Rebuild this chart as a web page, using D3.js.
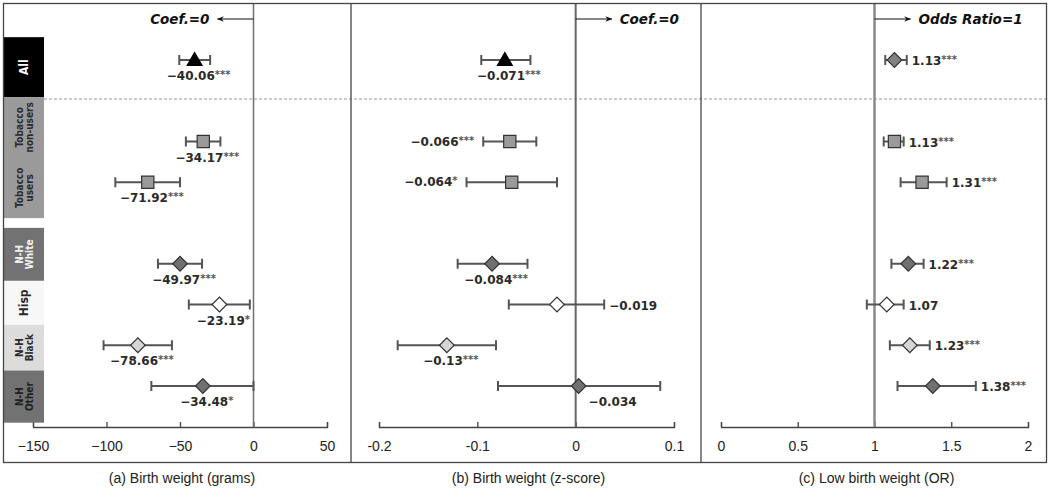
<!DOCTYPE html>
<html>
<head>
<meta charset="utf-8">
<script src="https://cdn.jsdelivr.net/npm/d3@7"></script>
<style>
    body { margin: 0; background: #fff; }
    svg { display: block; }
</style>
</head>
<body>
<script>
// forest plot, three panels, one row per group
var categories = ["All", "Tobacco non-users", "Tobacco users", "N-H White",
    "Hisp", "N-H Black", "N-H Other"];
var rowSlots = [0, 2, 3, 5, 6, 7, 8];   // empty slots between the groups

// (a) birth weight, grams
var bwEst = [-40.06, -34.17, -71.92, -49.97, -23.19, -78.66, -34.48];
var bwLo = [-50.5, -46, -94, -65, -44, -102, -69.5];
var bwHi = [-29.5, -22.5, -50, -35, -2.5, -55.5, 0];
var bwText = ["\u221240.06", "\u221234.17", "\u221271.92", "\u221249.97",
    "\u221223.19", "\u221278.66", "\u221234.48"];
var bwStars = ["***", "***", "***", "***", "*", "***", "*"];

// (b) birth weight, z-score
var zEst = [-0.072, -0.067, -0.065, -0.085, -0.019, -0.131, 0.003];
var zLo = [-0.096, -0.094, -0.111, -0.120, -0.068, -0.181, -0.079];
var zHi = [-0.046, -0.040, -0.019, -0.049, 0.029, -0.081, 0.086];
var zText = ["\u22120.071", "\u22120.066", "\u22120.064", "\u22120.084",
    "\u22120.019", "\u22120.13", "\u22120.034"];
var zStars = ["***", "***", "*", "***", "", "***", ""];

// (c) low birth weight, odds ratio
var orEst = [1.13, 1.13, 1.31, 1.22, 1.08, 1.23, 1.38];
var orLo = [1.07, 1.06, 1.17, 1.11, 0.95, 1.10, 1.15];
var orHi = [1.21, 1.19, 1.47, 1.32, 1.19, 1.36, 1.66];
var orText = ["1.13", "1.13", "1.31", "1.22", "1.07", "1.23", "1.38"];
var orStars = ["***", "***", "***", "***", "", "***", "***"];

var bwTicks = [-150, -100, -50, 0, 50];
var zTicks = [-0.2, -0.1, 0, 0.1];
var orTicks = [0, 0.5, 1, 1.5, 2];

var titles = ["(a) Birth weight (grams)", "(b) Birth weight (z-score)",
    "(c) Low birth weight (OR)"];

var width = 1050, height = 488;
var axisY = 427;
var narrow = "'Liberation Sans Narrow', 'Arial Narrow', sans-serif";

var svg = d3.select("body").append("svg")
    .attr("width", width)
    .attr("height", height);

svg.append("defs").append("marker")
    .attr("id", "arrow")
    .attr("viewBox", "0 0 10 10")
    .attr("refX", 9).attr("refY", 5)
    .attr("markerWidth", 7).attr("markerHeight", 7)
    .attr("markerUnits", "userSpaceOnUse")
    .attr("orient", "auto")
    .append("path")
    .attr("d", "M0,1 L10,5 L0,9 L3,5 Z")
    .attr("fill", "#111");

var y = d3.scaleLinear().domain([0, 8]).range([60, 386]);

// marker kind and fill per row ("diamond" = square turned 45 degrees)
var shapes = ["triangle", "square", "square", "diamond", "diamond",
    "diamond", "diamond"];
var fills = ["#000", "#9a9a9a", "#9a9a9a", "#707070", "#fff", "#d6d6d6",
    "#707070"];

function markerPath(kind) {
    if (kind === "triangle") {
        return d3.symbol().type(d3.symbolTriangle).size(95)();
    }
    if (kind === "square") {
        return d3.symbol().type(d3.symbolSquare).size(150)();
    }
    return d3.symbol().type(d3.symbolSquare).size(108)();
}

var panels = [
    {range: [33, 327], domain: [-150, 50], ref: 0,
     ticks: bwTicks, est: bwEst, lo: bwLo, hi: bwHi, text: bwText,
     stars: bwStars, fmt: d3.format("d"),
     place: ["below", "below", "below", "below", "below", "below", "below"],
     note: "Coef.=0", noteSide: "left", lineW: 1.5, lineC: "#707070"},
    {range: [379, 674], domain: [-0.2, 0.1], ref: 0,
     ticks: zTicks, est: zEst, lo: zLo, hi: zHi, text: zText,
     stars: zStars, fmt: function(d) { return d === 0 ? "0" : d; },
     place: ["below", "left", "left", "below", "right", "below", "belowR"],
     note: "Coef.=0", noteSide: "right", lineW: 2, lineC: "#666"},
    {range: [721, 1028], domain: [0, 2], ref: 1,
     ticks: orTicks, est: orEst, lo: orLo, hi: orHi, text: orText,
     stars: orStars, fmt: function(d) { return d; },
     place: ["right", "right", "right", "right", "right", "right", "right"],
     note: "Odds Ratio=1", noteSide: "right", lineW: 2.5, lineC: "#8a8a8a"}
];

// dashed separator under "All"
svg.append("line")
    .attr("x1", 44).attr("x2", 1047)
    .attr("y1", 99).attr("y2", 99)
    .attr("stroke", "#999")
    .attr("stroke-width", 1)
    .attr("stroke-dasharray", "3,2");

panels.forEach(function(p, pi) {
    var x = d3.scaleLinear().domain(p.domain).range(p.range);
    var g = svg.append("g");

    // axis with ticks pointing up
    var axis = d3.axisBottom(x)
        .tickValues(p.ticks)
        .tickSize(-5)
        .tickPadding(14)
        .tickFormat(p.fmt);
    var ax = g.append("g")
        .attr("transform", "translate(0," + axisY + ")")
        .call(axis);
    ax.selectAll("path, line").attr("stroke", "#444").attr("stroke-width", 1.3);
    ax.selectAll("text")
        .attr("font-family", narrow)
        .attr("font-size", 14)
        .attr("fill", "#222");

    // reference line
    g.append("line")
        .attr("x1", x(p.ref)).attr("x2", x(p.ref))
        .attr("y1", 3).attr("y2", axisY)
        .attr("stroke", p.lineC)
        .attr("stroke-width", p.lineW);

    // note with arrow
    var ax0 = x(p.ref);
    var noteY = 19;
    var dir = p.noteSide === "left" ? -1 : 1;
    g.append("line")
        .attr("x1", ax0).attr("x2", ax0 + dir * 36)
        .attr("y1", noteY).attr("y2", noteY)
        .attr("stroke", "#111").attr("stroke-width", 1.2)
        .attr("marker-end", "url(#arrow)");
    g.append("text")
        .attr("x", ax0 + dir * 44).attr("y", noteY + 5)
        .attr("text-anchor", dir < 0 ? "end" : "start")
        .attr("font-family", "'DejaVu Sans', sans-serif")
        .attr("font-size", 13.5).attr("font-weight", "bold")
        .attr("font-style", "italic").attr("fill", "#111")
        .text(p.note);

    categories.forEach(function(c, i) {
        var yy = y(rowSlots[i]);
        var row = g.append("g");
        // whisker and caps
        row.append("line")
            .attr("x1", x(p.lo[i])).attr("x2", x(p.hi[i]))
            .attr("y1", yy).attr("y2", yy)
            .attr("stroke", "#555").attr("stroke-width", 2);
        [p.lo[i], p.hi[i]].forEach(function(v) {
            row.append("line")
                .attr("x1", x(v)).attr("x2", x(v))
                .attr("y1", yy - 5).attr("y2", yy + 5)
                .attr("stroke", "#555").attr("stroke-width", 2);
        });

        var kind = shapes[i], fill = fills[i];
        if (pi === 2 && i === 0) {
            kind = "diamond"; fill = "#808080";
        }
        row.append("path")
            .attr("d", markerPath(kind))
            .attr("transform", "translate(" + x(p.est[i]) + "," +
                (kind === "triangle" ? yy + 1 : yy) + ")" +
                (kind === "diamond" ? " rotate(45)" : ""))
            .attr("fill", fill)
            .attr("stroke", kind === "triangle" ? "#000" : "#333")
            .attr("stroke-width", 1.2);

        // value label
        var lx, ly, anchor;
        var pl = p.place[i];
        if (pl === "below") {
            lx = x(p.est[i]) + 4; ly = yy + 20; anchor = "middle";
        } else if (pl === "belowR") {
            lx = x(p.est[i]) + 10; ly = yy + 20; anchor = "start";
        } else if (pl === "left") {
            lx = x(p.lo[i]) - 9; ly = yy + 4; anchor = "end";
        } else {
            lx = x(p.hi[i]) + 5; ly = yy + 5; anchor = "start";
        }
        var t = row.append("text")
            .attr("x", lx).attr("y", ly)
            .attr("text-anchor", anchor)
            .attr("font-family", "'DejaVu Sans', sans-serif")
            .attr("font-weight", "bold")
            .attr("font-size", 12)
            .attr("fill", "#2a2a2a");
        t.append("tspan").text(p.text[i]);
        if (p.stars[i]) {
            t.append("tspan")
                .attr("font-size", 10)
                .attr("dy", -2)
                .attr("fill", "#555")
                .text(p.stars[i]);
        }
    });

    // panel title under the frame
    svg.append("text")
        .attr("x", (p.range[0] + p.range[1]) / 2 + 2)
        .attr("y", 483)
        .attr("text-anchor", "middle")
        .attr("font-family", narrow)
        .attr("font-size", 14)
        .attr("fill", "#222")
        .text(titles[pi]);
});

// group boxes in the left column, labels centred in each part
var boxes = [
    {from: -0.56, to: 0.91, fill: "#000", color: "#fff", lines: [["All"]]},
    {from: 0.91, to: 3.88, fill: "#9a9a9a", color: "#2a2a2a",
     lines: [["Tobacco", "non-users"], ["Tobacco", "users"]]},
    {from: 4.12, to: 5.42, fill: "#727272", color: "#f2f2f2",
     lines: [["N-H", "White"]]},
    {from: 5.42, to: 6.5, fill: "#f7f7f7", color: "#2a2a2a",
     lines: [["Hisp"]]},
    {from: 6.5, to: 7.62, fill: "#dcdcdc", color: "#2a2a2a",
     lines: [["N-H", "Black"]]},
    {from: 7.62, to: 8.9, fill: "#727272", color: "#1e1e1e",
     lines: [["N-H", "Other"]]}
];

var side = svg.append("g");
boxes.forEach(function(b) {
    var top = y(b.from), bot = y(b.to);
    side.append("rect")
        .attr("x", 4).attr("width", 40)
        .attr("y", top)
        .attr("height", bot - top)
        .attr("fill", b.fill);
    var part = (bot - top) / b.lines.length;
    b.lines.forEach(function(lab, k) {
        var cy = top + part * (k + 0.5);
        var two = lab.length > 1;
        var t = side.append("text")
            .attr("transform", "translate(24," + cy + ") rotate(-90)")
            .attr("text-anchor", "middle")
            .attr("font-family", "'DejaVu Sans Condensed', 'DejaVu Sans', sans-serif")
            .attr("font-weight", "bold")
            .attr("font-size", two ? 10 : 12)
            .attr("fill", b.color);
        lab.forEach(function(s, j) {
            t.append("tspan")
                .attr("x", 0)
                .attr("dy", two ? (j === 0 ? -1.5 : 10) : 4)
                .text(s);
        });
    });
});

// frame and panel dividers
svg.append("rect")
    .attr("x", 3.5).attr("y", 3.5)
    .attr("width", 1043).attr("height", 459)
    .attr("fill", "none")
    .attr("stroke", "#444")
    .attr("stroke-width", 1.3);
[351, 701].forEach(function(d) {
    svg.append("line")
        .attr("x1", d).attr("x2", d)
        .attr("y1", 3).attr("y2", 463)
        .attr("stroke", "#444")
        .attr("stroke-width", 1.3);
});
</script>
</body>
</html>
